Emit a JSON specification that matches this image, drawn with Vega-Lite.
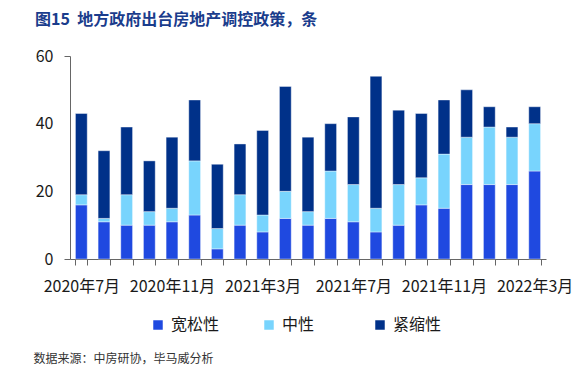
{
  "$schema": "https://vega.github.io/schema/vega-lite/v6.json",
  "width": 476,
  "height": 203,
  "autosize": {"type": "none"},
  "padding": {"left": 70, "top": 56, "right": 29, "bottom": 110},
  "background": "white",
  "config": {
    "view": {"stroke": null},
    "font": "Noto Sans CJK SC"
  },
  "title": {
    "text": "图15\u00a0\u00a0地方政府出台房地产调控政策，条",
    "anchor": "start",
    "frame": "group",
    "dx": -35,
    "offset": 20,
    "font": "Noto Sans CJK SC",
    "fontSize": 16,
    "fontWeight": "bold",
    "color": "#1a3c8c"
  },
  "data": {
    "values": [
      {"month": "2020年7月", "type": "宽松性", "o": 1, "value": 16},
      {"month": "2020年7月", "type": "中性", "o": 2, "value": 3},
      {"month": "2020年7月", "type": "紧缩性", "o": 3, "value": 24},
      {"month": "2020年8月", "type": "宽松性", "o": 1, "value": 11},
      {"month": "2020年8月", "type": "中性", "o": 2, "value": 1},
      {"month": "2020年8月", "type": "紧缩性", "o": 3, "value": 20},
      {"month": "2020年9月", "type": "宽松性", "o": 1, "value": 10},
      {"month": "2020年9月", "type": "中性", "o": 2, "value": 9},
      {"month": "2020年9月", "type": "紧缩性", "o": 3, "value": 20},
      {"month": "2020年10月", "type": "宽松性", "o": 1, "value": 10},
      {"month": "2020年10月", "type": "中性", "o": 2, "value": 4},
      {"month": "2020年10月", "type": "紧缩性", "o": 3, "value": 15},
      {"month": "2020年11月", "type": "宽松性", "o": 1, "value": 11},
      {"month": "2020年11月", "type": "中性", "o": 2, "value": 4},
      {"month": "2020年11月", "type": "紧缩性", "o": 3, "value": 21},
      {"month": "2020年12月", "type": "宽松性", "o": 1, "value": 13},
      {"month": "2020年12月", "type": "中性", "o": 2, "value": 16},
      {"month": "2020年12月", "type": "紧缩性", "o": 3, "value": 18},
      {"month": "2021年1月", "type": "宽松性", "o": 1, "value": 3},
      {"month": "2021年1月", "type": "中性", "o": 2, "value": 6},
      {"month": "2021年1月", "type": "紧缩性", "o": 3, "value": 19},
      {"month": "2021年2月", "type": "宽松性", "o": 1, "value": 10},
      {"month": "2021年2月", "type": "中性", "o": 2, "value": 9},
      {"month": "2021年2月", "type": "紧缩性", "o": 3, "value": 15},
      {"month": "2021年3月", "type": "宽松性", "o": 1, "value": 8},
      {"month": "2021年3月", "type": "中性", "o": 2, "value": 5},
      {"month": "2021年3月", "type": "紧缩性", "o": 3, "value": 25},
      {"month": "2021年4月", "type": "宽松性", "o": 1, "value": 12},
      {"month": "2021年4月", "type": "中性", "o": 2, "value": 8},
      {"month": "2021年4月", "type": "紧缩性", "o": 3, "value": 31},
      {"month": "2021年5月", "type": "宽松性", "o": 1, "value": 10},
      {"month": "2021年5月", "type": "中性", "o": 2, "value": 4},
      {"month": "2021年5月", "type": "紧缩性", "o": 3, "value": 22},
      {"month": "2021年6月", "type": "宽松性", "o": 1, "value": 12},
      {"month": "2021年6月", "type": "中性", "o": 2, "value": 14},
      {"month": "2021年6月", "type": "紧缩性", "o": 3, "value": 14},
      {"month": "2021年7月", "type": "宽松性", "o": 1, "value": 11},
      {"month": "2021年7月", "type": "中性", "o": 2, "value": 11},
      {"month": "2021年7月", "type": "紧缩性", "o": 3, "value": 20},
      {"month": "2021年8月", "type": "宽松性", "o": 1, "value": 8},
      {"month": "2021年8月", "type": "中性", "o": 2, "value": 7},
      {"month": "2021年8月", "type": "紧缩性", "o": 3, "value": 39},
      {"month": "2021年9月", "type": "宽松性", "o": 1, "value": 10},
      {"month": "2021年9月", "type": "中性", "o": 2, "value": 12},
      {"month": "2021年9月", "type": "紧缩性", "o": 3, "value": 22},
      {"month": "2021年10月", "type": "宽松性", "o": 1, "value": 16},
      {"month": "2021年10月", "type": "中性", "o": 2, "value": 8},
      {"month": "2021年10月", "type": "紧缩性", "o": 3, "value": 19},
      {"month": "2021年11月", "type": "宽松性", "o": 1, "value": 15},
      {"month": "2021年11月", "type": "中性", "o": 2, "value": 16},
      {"month": "2021年11月", "type": "紧缩性", "o": 3, "value": 16},
      {"month": "2021年12月", "type": "宽松性", "o": 1, "value": 22},
      {"month": "2021年12月", "type": "中性", "o": 2, "value": 14},
      {"month": "2021年12月", "type": "紧缩性", "o": 3, "value": 14},
      {"month": "2022年1月", "type": "宽松性", "o": 1, "value": 22},
      {"month": "2022年1月", "type": "中性", "o": 2, "value": 17},
      {"month": "2022年1月", "type": "紧缩性", "o": 3, "value": 6},
      {"month": "2022年2月", "type": "宽松性", "o": 1, "value": 22},
      {"month": "2022年2月", "type": "中性", "o": 2, "value": 14},
      {"month": "2022年2月", "type": "紧缩性", "o": 3, "value": 3},
      {"month": "2022年3月", "type": "宽松性", "o": 1, "value": 26},
      {"month": "2022年3月", "type": "中性", "o": 2, "value": 14},
      {"month": "2022年3月", "type": "紧缩性", "o": 3, "value": 5}
    ]
  },
  "mark": {"type": "bar", "stroke": "#ffffff", "strokeWidth": 0.8, "strokeOpacity": 0.5},
  "encoding": {
    "x": {
      "field": "month",
      "type": "nominal",
      "sort": null,
      "scale": {"paddingInner": 0.48, "paddingOuter": 0.24},
      "axis": {
        "title": "数据来源：中房研协，毕马威分析",
        "titleAnchor": "start",
        "titleAlign": "left",
        "titleX": -37,
        "titleY": 99,
        "titleBaseline": "middle",
        "titleFontSize": 12,
        "titleFontWeight": "normal",
        "titleColor": "#333333",
        "labelAngle": 0,
        "labelOverlap": false,
        "labelExpr": "indexof(['2020年7月','2020年11月','2021年3月','2021年7月','2021年11月','2022年3月'], datum.value) >= 0 ? datum.value : ''",
        "labelFontSize": 16,
        "labelColor": "#1a1a1a",
        "labelPadding": 13,
        "tickBand": "extent",
        "tickSize": 6,
        "tickColor": "#666666",
        "domainColor": "#666666"
      }
    },
    "y": {
      "field": "value",
      "type": "quantitative",
      "stack": "zero",
      "scale": {"domain": [0, 60]},
      "axis": {
        "title": null,
        "values": [0, 20, 40, 60],
        "grid": false,
        "tickSize": 6,
        "tickColor": "#666666",
        "tickOpacity": {"condition": {"test": "datum.value == 20 || datum.value == 40", "value": 0}, "value": 1},
        "domainColor": "#666666",
        "labelFontSize": 16,
        "labelColor": "#1a1a1a",
        "labelPadding": 11
      }
    },
    "color": {
      "field": "type",
      "type": "nominal",
      "sort": ["宽松性", "中性", "紧缩性"],
      "scale": {"domain": ["宽松性", "中性", "紧缩性"], "range": ["#1f49e0", "#78d4fd", "#003189"]},
      "legend": {
        "title": null,
        "orient": "none",
        "legendX": 80,
        "legendY": 261,
        "direction": "horizontal",
        "columns": 3,
        "gridAlign": "all",
        "columnPadding": 41,
        "symbolType": "square",
        "symbolSize": 90,
        "symbolStrokeWidth": 0,
        "symbolOpacity": 1,
        "labelFontSize": 16,
        "labelColor": "#1a1a1a",
        "labelOffset": 5
      }
    },
    "order": {"field": "o", "type": "quantitative"}
  }
}
